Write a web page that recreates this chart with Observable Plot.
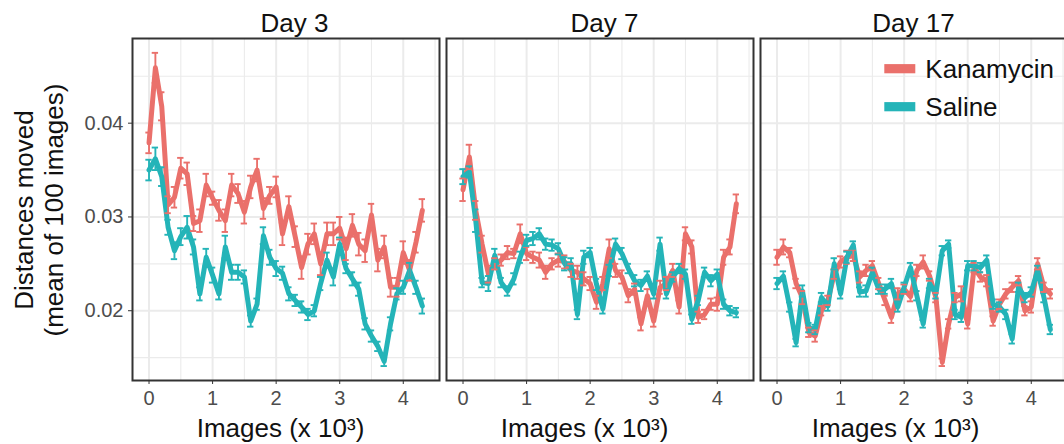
<!DOCTYPE html>
<html><head><meta charset="utf-8">
<script src="https://cdn.jsdelivr.net/npm/d3@7"></script>
<script src="https://cdn.jsdelivr.net/npm/@observablehq/plot@0.6"></script>
<style>
html,body{margin:0;padding:0;background:#fff;overflow:hidden;}
#chart{width:1064px;height:444px;overflow:hidden;position:relative;}
#chart svg{max-width:none !important;}
</style></head><body><div id="chart"></div>
<script>
const days = ["Day 3", "Day 7", "Day 17"];
const groups = ["Kanamycin", "Saline"];
const groupColors = ["#ea706b", "#24b4b8"];
const images = [0,0.1,0.2,0.3,0.4,0.5,0.6,0.7,0.8,0.9,1,1.1,1.2,1.3,1.4,1.5,1.6,1.7,1.8,1.9,2,2.1,2.2,2.3,2.4,2.5,2.6,2.7,2.8,2.9,3,3.1,3.2,3.3,3.4,3.5,3.6,3.7,3.8,3.9,4,4.1,4.2,4.3];
const xMajorTicks = [0, 1, 2, 3, 4];
const xMinorTicks = [0.5, 1.5, 2.5, 3.5, 4.5];
const yMajorTicks = [0.02, 0.03, 0.04];
const yMinorTicks = [0.015, 0.025, 0.035, 0.045];

// mean distances moved
const day3Kanamycin = [0.0379,0.0459,0.0418,0.0313,0.0321,0.0352,0.0346,0.0293,0.0296,0.0334,0.0320,0.0307,0.0296,0.0334,0.0325,0.0305,0.0332,0.0350,0.0309,0.0323,0.0332,0.0282,0.0311,0.0279,0.0246,0.0271,0.0282,0.0250,0.0282,0.0282,0.0288,0.0266,0.0291,0.0271,0.0264,0.0302,0.0254,0.0268,0.0225,0.0225,0.0262,0.0243,0.0273,0.0307];
const day3Saline = [0.0350,0.0362,0.0343,0.0289,0.0264,0.0279,0.0289,0.0268,0.0218,0.0257,0.0238,0.0218,0.0268,0.0241,0.0241,0.0236,0.0189,0.0207,0.0280,0.0257,0.0245,0.0240,0.0218,0.0211,0.0204,0.0196,0.0200,0.0229,0.0254,0.0236,0.0271,0.0245,0.0234,0.0223,0.0186,0.0173,0.0162,0.0146,0.0186,0.0218,0.0225,0.0243,0.0225,0.0205];
const day7Kanamycin = [0.0329,0.0364,0.0307,0.0271,0.0239,0.0250,0.0254,0.0262,0.0261,0.0282,0.0261,0.0257,0.0254,0.0241,0.0250,0.0254,0.0252,0.0243,0.0241,0.0234,0.0229,0.0209,0.0229,0.0266,0.0243,0.0236,0.0216,0.0223,0.0186,0.0216,0.0189,0.0225,0.0229,0.0243,0.0204,0.0282,0.0268,0.0193,0.0196,0.0207,0.0207,0.0257,0.0268,0.0314];
const day7Saline = [0.0343,0.0348,0.0296,0.0230,0.0229,0.0259,0.0230,0.0221,0.0234,0.0257,0.0275,0.0277,0.0282,0.0271,0.0270,0.0266,0.0250,0.0250,0.0196,0.0257,0.0262,0.0228,0.0202,0.0243,0.0271,0.0261,0.0245,0.0232,0.0227,0.0237,0.0218,0.0271,0.0218,0.0236,0.0245,0.0239,0.0191,0.0211,0.0241,0.0232,0.0239,0.0207,0.0200,0.0198];
const day17Kanamycin = [0.0257,0.0268,0.0262,0.0229,0.0214,0.0177,0.0173,0.0200,0.0211,0.0239,0.0252,0.0257,0.0259,0.0236,0.0243,0.0248,0.0229,0.0211,0.0193,0.0218,0.0223,0.0215,0.0243,0.0252,0.0237,0.0214,0.0145,0.0186,0.0214,0.0218,0.0186,0.0246,0.0236,0.0232,0.0189,0.0207,0.0218,0.0225,0.0232,0.0200,0.0204,0.0250,0.0225,0.0218];
const day17Saline = [0.0229,0.0237,0.0204,0.0166,0.0221,0.0182,0.0180,0.0214,0.0205,0.0250,0.0218,0.0257,0.0270,0.0220,0.0221,0.0241,0.0223,0.0223,0.0229,0.0204,0.0225,0.0246,0.0216,0.0186,0.0229,0.0218,0.0264,0.0271,0.0196,0.0193,0.0248,0.0248,0.0246,0.0254,0.0207,0.0204,0.0196,0.0170,0.0225,0.0214,0.0220,0.0243,0.0214,0.0180];

// standard errors (x 1e-4)
const day3KanamycinSE = [11,16,15,9,11,11,12,8,12,12,7,11,12,12,10,12,12,12,11,9,11,12,11,11,12,11,11,12,12,12,12,12,12,12,12,12,12,12,10,10,12,11,11,12];
const day3SalineSE = [11,12,10,8,9,9,12,8,7,9,8,6,12,8,8,7,6,6,9,8,8,7,7,6,6,6,6,7,8,9,7,5,7,7,6,6,5,5,7,6,7,8,7,8];
const day7KanamycinSE = [12,13,10,9,9,6,6,7,5,10,7,6,8,7,6,7,7,7,7,7,7,7,7,10,7,7,7,6,7,7,6,7,7,7,7,7,7,6,5,6,7,8,8,10];
const day7SalineSE = [8,6,12,5,8,7,5,5,6,6,6,7,6,6,6,6,7,6,5,7,5,6,5,6,6,6,5,6,6,5,5,7,5,5,5,5,5,5,5,6,5,5,5,5];
const day17KanamycinSE = [8,8,5,5,7,5,6,5,5,5,6,7,6,6,6,5,6,5,6,6,5,5,6,7,5,5,4,5,5,8,5,5,5,6,5,5,5,5,5,5,6,6,5,5];
const day17SalineSE = [6,5,5,4,6,5,5,5,5,6,5,6,4,5,6,5,5,5,5,5,5,5,5,4,5,5,5,4,5,5,5,5,5,5,5,5,5,5,5,5,5,5,5,5];

const sources = [
  ["Day 3", "Kanamycin", day3Kanamycin, day3KanamycinSE],
  ["Day 3", "Saline", day3Saline, day3SalineSE],
  ["Day 7", "Kanamycin", day7Kanamycin, day7KanamycinSE],
  ["Day 7", "Saline", day7Saline, day7SalineSE],
  ["Day 17", "Kanamycin", day17Kanamycin, day17KanamycinSE],
  ["Day 17", "Saline", day17Saline, day17SalineSE]
];
const rows = sources.flatMap(([day, group, vals, se]) =>
  vals.map((v, i) => ({day, group, x: images[i], y: v, e: se[i] * 1e-4})));

const FONT = "'Liberation Sans', Arial, Helvetica, sans-serif";
const capHalf = 0.05;

const plot = Plot.plot({
  width: 1072, height: 444,
  marginLeft: 132, marginRight: 4, marginTop: 38, marginBottom: 64,
  style: {fontFamily: FONT, background: "#fff", color: "#4d4d4d", overflow: "visible", maxWidth: "none"},
  fx: {domain: days, paddingInner: 0.022, paddingOuter: 0, axis: null, label: null},
  x: {domain: [-0.26, 4.57], label: null},
  y: {domain: [0.01256, 0.04903], label: null},
  color: {domain: groups, range: groupColors},
  marks: [
    Plot.gridX({ticks: xMinorTicks, stroke: "#ebebeb", strokeOpacity: 1, strokeWidth: 1.1}),
    Plot.gridY({ticks: yMinorTicks, stroke: "#ebebeb", strokeOpacity: 1, strokeWidth: 1.1}),
    Plot.gridX({ticks: xMajorTicks, stroke: "#ebebeb", strokeOpacity: 1, strokeWidth: 2}),
    Plot.gridY({ticks: yMajorTicks, stroke: "#ebebeb", strokeOpacity: 1, strokeWidth: 2}),
    Plot.line(rows, {fx: "day", x: "x", y: "y", z: "group", stroke: "group", strokeWidth: 5, strokeLinejoin: "round"}),
    Plot.ruleX(rows, {fx: "day", x: "x", y1: d => d.y - d.e, y2: d => d.y + d.e, stroke: "group", strokeWidth: 1.9}),
    Plot.ruleY(rows, {fx: "day", y: d => d.y + d.e, x1: d => d.x - capHalf, x2: d => d.x + capHalf, stroke: "group", strokeWidth: 1.9}),
    Plot.ruleY(rows, {fx: "day", y: d => d.y - d.e, x1: d => d.x - capHalf, x2: d => d.x + capHalf, stroke: "group", strokeWidth: 1.9}),
    Plot.frame({stroke: "#333", strokeWidth: 2}),
    Plot.axisX({ticks: xMajorTicks, tickFormat: d3.format("d"), tickSize: 4, tickPadding: 6, fontSize: 20, stroke: "#333", fill: "#4d4d4d", label: null}),
    Plot.axisY({ticks: yMajorTicks, tickFormat: d3.format(".2f"), tickSize: 4, tickPadding: 5, fontSize: 20, stroke: "#333", fill: "#4d4d4d", label: null})
  ]
});

document.getElementById("chart").appendChild(plot);

const svg = d3.select(plot);
const fx = plot.scale("fx");
const color = plot.scale("color");
const bw = fx.bandwidth;
const panelLeft = d => fx.apply(d);
const titleOffsets = {"Day 3": 9, "Day 7": 5, "Day 17": 0};
const xTitleOffsets = {"Day 3": -5, "Day 7": -15, "Day 17": -18};

const g = svg.append("g").attr("font-family", FONT);
// facet titles and x titles
days.forEach(d => {
  g.append("text")
    .attr("x", panelLeft(d) + bw / 2 + titleOffsets[d])
    .attr("y", 31.5)
    .attr("text-anchor", "middle")
    .attr("font-size", 26)
    .attr("fill", "#111")
    .text(d);
  g.append("text")
    .attr("x", panelLeft(d) + bw / 2 + xTitleOffsets[d])
    .attr("y", 437)
    .attr("text-anchor", "middle")
    .attr("font-size", 26)
    .attr("fill", "#111")
    .text("Images (x 10³)");
});
// y title
[["Distances moved", 33], ["(mean of 100 images)", 62.5]].forEach(([t, x]) => {
  g.append("text")
    .attr("transform", `translate(${x},210) rotate(-90)`)
    .attr("text-anchor", "middle")
    .attr("font-size", 26)
    .attr("fill", "#111")
    .text(t);
});
// legend in Day 17 panel
const lx = panelLeft("Day 17") + 124.3;
groups.forEach((grp, i) => {
  const cy = 68.7 + i * 38;
  g.append("rect").attr("x", lx).attr("y", cy - 4.6).attr("width", 31).attr("height", 9.2).attr("fill", color.apply(grp));
  g.append("text").attr("x", lx + 41).attr("y", cy + 9.4).attr("text-anchor", "start").attr("font-size", 26).attr("fill", "#111").text(grp);
});
</script>
</body></html>
